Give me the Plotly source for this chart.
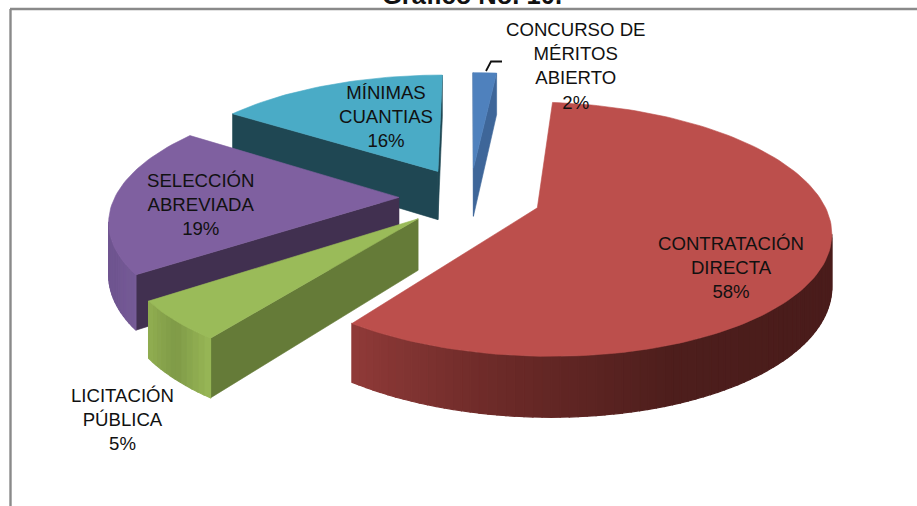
import math
import plotly.graph_objects as go

# ---- data ----
categories = ["CONCURSO DE<br>MÉRITOS<br>ABIERTO", "CONTRATACIÓN<br>DIRECTA", "LICITACIÓN<br>PÚBLICA",
              "SELECCIÓN<br>ABREVIADA", "MÍNIMAS<br>CUANTIAS"]
values = [1.6, 58.4, 5.1, 19.4, 15.5]
title_text = "Gráfico No. 10."

# ---- styles ----
top_colors = ["#4F81BD", "#BC4F4C", "#9ABB59", "#7F60A0", "#4AABC6"]
cut_colors = ["#3E6699", "#4A1C1B", "#657B38", "#413050", "#1F4753"]
arc_stops = [["#3E6699", "#3E6699"],
             ["#4A1C1B", "#4A1C1B", "#4D1E1C", "#6A2927", "#8F3A38"],
             ["#96B555", "#7F9A47", "#8FAC50"],
             ["#755A96", "#6F5590", "#6F5590"],
             ["#1F4753", "#1F4753"]]
label_xy = [(575, 66), (731, 267), (122, 419), (201, 204), (386, 116)]

# ---- projection parameters ----
CX, CY = 470, 197
A, B = 284, 120
K = 0.165
WALL = 50
EXPLODE = 0.25
W, H = 917, 506


def project(u, v, depth=0.0):
    s = 1 + K * v
    return CX + A * u / s, CY - B * v / s + depth * WALL / s


def hex2rgb(c):
    return [int(c[i:i + 2], 16) for i in (1, 3, 5)]


def mix(stops, t):
    if len(stops) == 1:
        return stops[0]
    p = min(max(t, 0), 1) * (len(stops) - 1)
    i = min(int(p), len(stops) - 2)
    f = p - i
    a, b = hex2rgb(stops[i]), hex2rgb(stops[i + 1])
    return "rgb(%d,%d,%d)" % tuple(round(a[j] + (b[j] - a[j]) * f) for j in range(3))


def poly(points, color, edge=0.6):
    xs = [p[0] for p in points] + [points[0][0]]
    ys = [p[1] for p in points] + [points[0][1]]
    return go.Scatter(x=xs, y=ys, mode="lines", fill="toself", fillcolor=color,
                      line=dict(color=color, width=edge), hoverinfo="skip", showlegend=False)


def signed_area(pts):
    return sum(pts[i][0] * pts[(i + 1) % len(pts)][1] - pts[(i + 1) % len(pts)][0] * pts[i][1]
               for i in range(len(pts))) / 2


# clockwise angles from the top of the pie
total = sum(values)
slices = []
angle = 0.0
for i, val in enumerate(values):
    sweep = 360.0 * val / total
    slices.append((i, angle, angle + sweep))
    angle += sweep


def build(i, a0, a1):
    mid = math.radians((a0 + a1) / 2)
    ou, ov = EXPLODE * math.sin(mid), EXPLODE * math.cos(mid)
    n = max(2, int((a1 - a0) / 1.5))
    ang = [math.radians(a0 + (a1 - a0) * j / n) for j in range(n + 1)]
    rim = [(ou + math.sin(t), ov + math.cos(t)) for t in ang]
    apex = (ou, ov)
    traces = []
    # flat cut faces: keep those that face the viewer
    for p, q in ((apex, rim[0]), (rim[-1], apex)):
        quad = [project(*p), project(*q), project(*q, 1), project(*p, 1)]
        if signed_area(quad) < 0:
            traces.append(poly(quad, cut_colors[i]))
    # outer wall, shaded strip by strip along the part that is visible
    strips = []
    for j in range(n):
        quad = [project(*rim[j]), project(*rim[j + 1]), project(*rim[j + 1], 1), project(*rim[j], 1)]
        if signed_area(quad) < 0:
            strips.append(quad)
    for j, quad in enumerate(strips):
        t = j / max(1, len(strips) - 1)
        traces.append(poly(quad, mix(arc_stops[i], t), edge=1.2))
    # top face
    traces.append(poly([project(*apex)] + [project(*p) for p in rim], top_colors[i]))
    return traces


# back slices are painted first
order = sorted(slices, key=lambda s: -math.cos(math.radians((s[1] + s[2]) / 2)))
fig = go.Figure()
for i, a0, a1 in order:
    fig.add_traces(build(i, a0, a1))

annotations = [dict(x=x, y=y, xref="x", yref="y", text=f"{c}<br>{v:.0f}%", showarrow=False,
                    font=dict(family="Liberation Sans", size=18.6, color="#111111"),
                    xanchor="center", yanchor="middle", align="center")
               for c, v, (x, y) in zip(categories, values, label_xy)]
annotations.append(dict(x=472 / W, y=1, xref="paper", yref="paper", text=f"<b>{title_text}</b>",
                        showarrow=False, xanchor="center", yanchor="bottom", yshift=-11,
                        font=dict(family="Liberation Sans", size=25.5, color="#111111")))

line_gray = dict(color="#8A8A8A", width=2.4)
shapes = [dict(type="line", x0=10.5, x1=10.5, y0=9, y1=H, line=line_gray),
          dict(type="line", x0=10, x1=W, y0=9, y1=9, line=line_gray),
          dict(type="path", path="M 486 71 L 491 61.5 L 502 61.5", line=dict(color="#111111", width=1.8))]

fig.update_layout(width=W, height=H, margin=dict(l=0, r=0, t=0, b=0),
                  paper_bgcolor="white", plot_bgcolor="white", showlegend=False,
                  xaxis=dict(range=[0, W], visible=False, fixedrange=True),
                  yaxis=dict(range=[H, 0], visible=False, fixedrange=True),
                  annotations=annotations, shapes=shapes)
fig.write_html("out.html", config=dict(displayModeBar=False),
               post_script="document.body.style.margin='0';")
